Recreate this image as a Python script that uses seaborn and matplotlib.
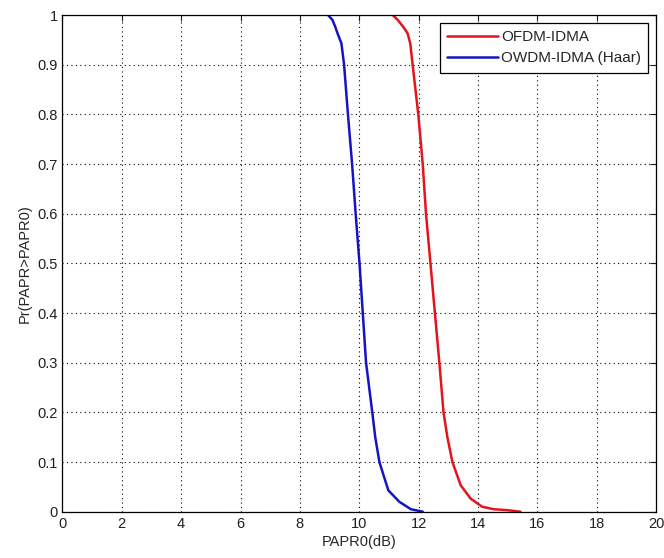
import numpy as np
import pandas as pd
import matplotlib
matplotlib.use("Agg")
import matplotlib.pyplot as plt
import seaborn as sns

# --- DATA ---
OFDM_PAPR = [11.13, 11.3, 11.5, 11.63, 11.72, 11.8, 11.99, 12.14, 12.25, 12.4, 12.55,
             12.7, 12.84, 12.97, 13.14, 13.42, 13.76, 14.14, 14.53, 15.0, 15.43]
OFDM_CCDF = [1.0, 0.99, 0.975, 0.963, 0.943, 0.9, 0.8, 0.7, 0.6, 0.5, 0.4,
             0.3, 0.2, 0.15, 0.1, 0.053, 0.026, 0.01, 0.005, 0.003, 0.0]

OWDM_PAPR = [8.95, 9.1, 9.2, 9.27, 9.4, 9.49, 9.62, 9.76, 9.88, 10.01, 10.12,
             10.23, 10.44, 10.54, 10.68, 10.98, 11.35, 11.74, 12.14]
OWDM_CCDF = [1.0, 0.99, 0.975, 0.963, 0.943, 0.9, 0.8, 0.7, 0.6, 0.5, 0.4,
             0.3, 0.2, 0.15, 0.1, 0.043, 0.02, 0.005, 0.0]

LABELS = ["OFDM-IDMA", "OWDM-IDMA (Haar)"]
X_TICKS = list(range(0, 21, 2))
Y_TICKS = [0, 0.1, 0.2, 0.3, 0.4, 0.5, 0.6, 0.7, 0.8, 0.9, 1]

C_RED = "#e3141b"
C_BLUE = "#1414c4"


def main():
    sns.set_style("white")
    plt.rcParams['font.family'] = ['Liberation Sans', 'DejaVu Sans']

    df = pd.concat([
        pd.DataFrame({"papr": OFDM_PAPR, "ccdf": OFDM_CCDF, "scheme": LABELS[0]}),
        pd.DataFrame({"papr": OWDM_PAPR, "ccdf": OWDM_CCDF, "scheme": LABELS[1]}),
    ], ignore_index=True)

    fig, ax = plt.subplots(figsize=(6.64, 5.58), dpi=100)
    fig.subplots_adjust(left=0.094, right=0.988, bottom=0.083, top=0.973)

    sns.lineplot(data=df, x="papr", y="ccdf", hue="scheme", ax=ax,
                 palette=[C_RED, C_BLUE], sort=False, estimator=None,
                 linewidth=1.8)

    ax.set_xlim(0, 20)
    ax.set_ylim(0, 1)
    ax.set_xticks(X_TICKS)
    ax.set_yticks(Y_TICKS)
    ax.set_yticklabels([f"{v:g}" for v in Y_TICKS])

    ax.grid(True, linestyle=(0, (1, 3)), color="black", linewidth=0.8)
    ax.tick_params(direction="in", length=4, top=True, right=True,
                   labelsize=10.5, colors="#202020")
    for s in ax.spines.values():
        s.set_visible(True)
        s.set_color("black")
        s.set_linewidth(0.9)

    ax.set_xlabel("PAPR0(dB)", fontsize=10.5, labelpad=3)
    ax.set_ylabel("Pr(PAPR>PAPR0)", fontsize=10.5, labelpad=4)

    leg = ax.legend(loc="upper right", fontsize=11, frameon=True,
                    fancybox=False, handlelength=3.3, borderaxespad=0.5,
                    labelspacing=0.45, handletextpad=0.2, borderpad=0.5)
    leg.get_frame().set_edgecolor("black")
    leg.get_frame().set_linewidth(0.9)
    leg.get_frame().set_alpha(1)

    fig.savefig("out.png", dpi=100, facecolor="white")


if __name__ == "__main__":
    main()
